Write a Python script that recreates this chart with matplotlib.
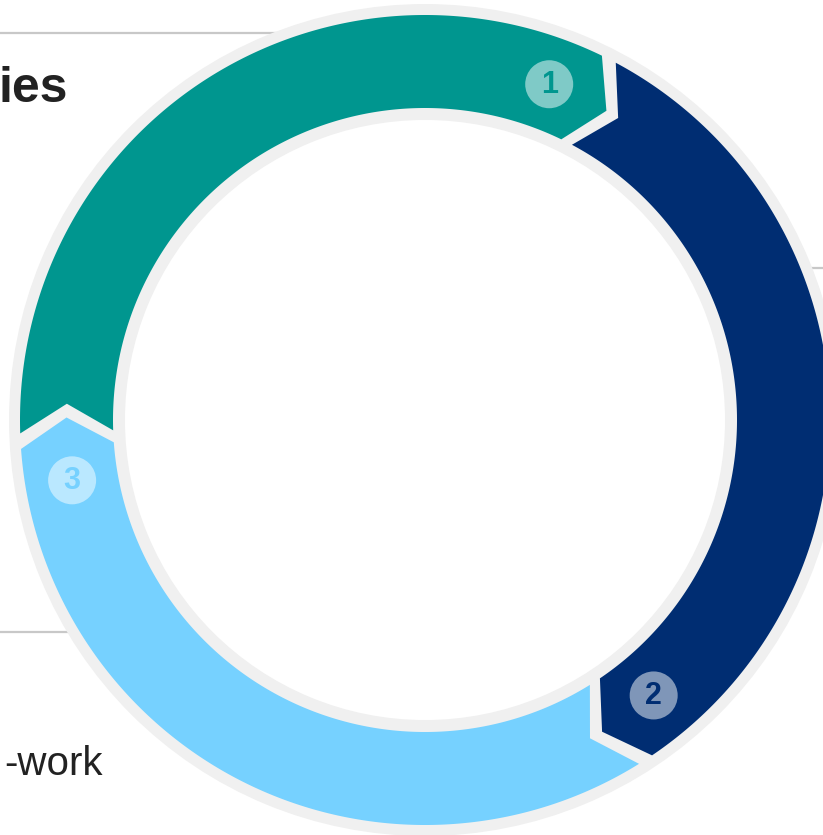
import numpy as np
import matplotlib.pyplot as plt
from matplotlib.patches import Polygon, Circle, Wedge

# Ciclo de tres pasos (partes iguales)
steps = ['1', '2', '3']
shares = [1, 1, 1]
colors = ['#00968F', '#002D72', '#76D1FF']

W, H = 823, 835
cx, cy = 425, 420

fig = plt.figure(figsize=(W / 100, H / 100), dpi=100)
ax = fig.add_axes([0, 0, 1, 1])
ax.set_xlim(0, W)
ax.set_ylim(H, 0)
ax.set_aspect('equal')
ax.axis('off')


def pt(r, ang):
    a = np.radians(ang)
    return cx + r * np.cos(a), cy - r * np.sin(a)


# Texto y líneas de fondo (quedan parcialmente tapados por el anillo)
ax.plot([0, 360], [33, 33], color='#c8c8c8', lw=1.6, zorder=1)
ax.plot([0, 150], [632, 632], color='#c8c8c8', lw=1.6, zorder=1)
ax.plot([760, W], [268, 268], color='#c8c8c8', lw=1.6, zorder=1)
ax.text(68, 102, 'ies', ha='right', va='baseline', fontsize=36,
        fontweight='bold', color='#222222', family='Liberation Sans', zorder=1)
ax.text(103, 775, '-work', ha='right', va='baseline', fontsize=29,
        color='#222222', family='Liberation Sans', zorder=1)

# Anillo gris de fondo
ax.add_patch(Wedge((cx, cy), 416, 0, 360, width=116, facecolor='#f0f0f0',
                   edgecolor='none', zorder=2))

r_out, r_in = 405, 312
r_mid = (r_out + r_in) / 2
half_gap = 1.1
depth = 4.5
start = 183.0
total = sum(shares)

for i, (lab, val, col) in enumerate(zip(steps, shares, colors)):
    a0 = start - 360 * sum(shares[:i]) / total
    a1 = a0 - 360 * val / total
    s = a0 - half_gap
    e = a1 + half_gap
    arc = np.linspace(s, e, 200)
    xs, ys = [], []
    for a in arc:
        x, y = pt(r_out, a)
        xs.append(x); ys.append(y)
    # punta de flecha al final del tramo
    x, y = pt(r_mid, e - depth); xs.append(x); ys.append(y)
    for a in arc[::-1]:
        x, y = pt(r_in, a)
        xs.append(x); ys.append(y)
    # muesca al inicio del tramo
    x, y = pt(r_mid, s - depth); xs.append(x); ys.append(y)
    ax.add_patch(Polygon(np.column_stack([xs, ys]), closed=True,
                         facecolor=col, edgecolor='none', zorder=3))

    # número del paso
    bx, by = pt(358, e + 5.6)
    ax.add_patch(Circle((bx, by), 24, facecolor='white', alpha=0.5,
                        edgecolor='none', zorder=4))
    ax.text(bx, by + 1, lab, ha='center', va='center', fontsize=22,
            fontweight='bold', color=col, family='Liberation Sans', zorder=5)

fig.savefig('out.png', dpi=100)
